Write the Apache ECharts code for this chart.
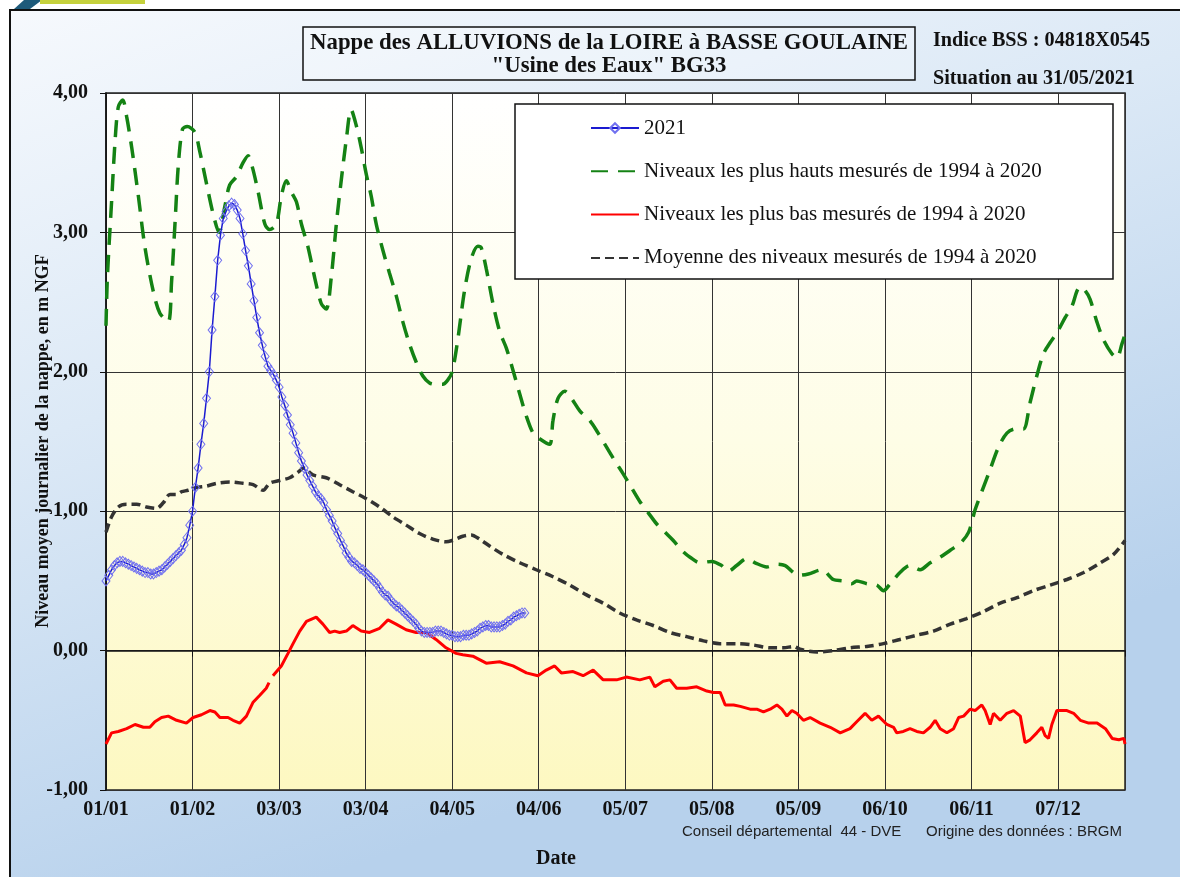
<!DOCTYPE html>
<html>
<head>
<meta charset="utf-8">
<script src="https://cdn.jsdelivr.net/npm/echarts@6/dist/echarts.min.js"></script>
<style>
html,body{margin:0;padding:0;background:#fff;}
#c{width:1180px;height:877px;}
</style>
</head>
<body>
<div id="c"></div>
<script>
// ---- data ----
const xTickDays = [0,31,62,93,124,155,186,217,248,279,310,341];
const xTickLabels = ['01/01','01/02','03/03','03/04','04/05','04/06','05/07','05/08','05/09','06/10','06/11','07/12'];
const yTickValues = [-1,0,1,2,3,4];
const yTickLabels = ['-1,00','0,00','1,00','2,00','3,00','4,00'];

const seriesNames = ['2021','Niveaux les plus hauts mesurés de 1994 à 2020','Niveaux les plus bas mesurés de 1994 à 2020','Moyenne des niveaux mesurés de 1994 à 2020'];

// 2021 daily levels (day 0 = 01/01)
const level2021 = [0.50,0.54,0.58,0.61,0.63,0.64,0.64,0.63,0.62,0.61,0.60,0.59,0.58,0.57,0.56,0.56,0.55,0.55,0.56,0.57,
0.58,0.60,0.62,0.64,0.66,0.68,0.70,0.72,0.76,0.81,0.90,1.00,1.17,1.31,1.48,1.63,1.81,2.00,2.30,2.54,
2.80,2.98,3.10,3.15,3.19,3.21,3.20,3.16,3.10,2.99,2.87,2.76,2.63,2.51,2.39,2.28,2.19,2.11,2.04,2.01,
1.98,1.94,1.89,1.82,1.76,1.69,1.62,1.56,1.49,1.42,1.36,1.31,1.26,1.22,1.18,1.14,1.11,1.09,1.06,1.01,
0.97,0.93,0.88,0.84,0.79,0.75,0.70,0.67,0.64,0.63,0.61,0.59,0.58,0.56,0.54,0.52,0.50,0.48,0.45,0.42,
0.40,0.39,0.36,0.34,0.32,0.31,0.29,0.27,0.25,0.23,0.21,0.19,0.16,0.14,0.13,0.13,0.13,0.13,0.14,0.14,
0.14,0.13,0.12,0.11,0.11,0.10,0.10,0.10,0.11,0.11,0.11,0.12,0.13,0.14,0.16,0.17,0.18,0.18,0.17,0.17,
0.17,0.17,0.18,0.19,0.21,0.22,0.24,0.25,0.26,0.27,0.27];

// Highest levels 1994-2020 [day, value]
const maxLevels = [[0,2.33],[0.5,2.68],[2,3.22],[3.2,3.64],[4.4,3.90],[6,3.95],[7.4,3.83],[9.2,3.61],[11.6,3.26],[13.9,2.90],
[16.9,2.58],[19.3,2.42],[22.3,2.36],[23.5,2.65],[24.7,3.06],[25.9,3.48],[27.4,3.74],[29.1,3.76],[31.8,3.72],[33.6,3.58],
[36,3.35],[38.4,3.13],[40.5,3.00],[42.6,3.19],[44.3,3.34],[46.7,3.40],[49.1,3.50],[50.9,3.55],[52.4,3.47],[54.5,3.29],
[56.9,3.06],[58.6,3.02],[61,3.06],[62.8,3.26],[64.6,3.37],[66.4,3.29],[68.2,3.22],[70,3.06],[72.3,2.90],[74.7,2.68],
[77.1,2.49],[78.9,2.45],[80.7,2.68],[82.5,3.06],[84.3,3.38],[86.1,3.67],[87.8,3.88],[89.6,3.77],[91.4,3.61],[93.2,3.42],
[95,3.26],[96.8,3.06],[99.2,2.87],[101.5,2.71],[103.9,2.55],[106.3,2.36],[108.7,2.20],[111.1,2.07],[113.5,1.97],[115.9,1.92],
[118.2,1.91],[120.6,1.91],[122.4,1.94],[124,2.00],[126,2.23],[128.4,2.58],[130.8,2.81],[133.2,2.90],[134.4,2.89],[136.2,2.74],
[138.6,2.49],[141,2.29],[143.4,2.17],[145.8,2.01],[148.2,1.84],[150.6,1.68],[153,1.56],[155.3,1.52],[158.9,1.48],[160.1,1.65],
[161.9,1.81],[164.3,1.86],[166.7,1.81],[169.7,1.72],[173.3,1.65],[176.3,1.56],[179.3,1.46],[182.3,1.36],[185.2,1.27],[188.2,1.17],
[191.2,1.07],[194.2,0.99],[197.2,0.91],[200.2,0.85],[203.2,0.79],[206.2,0.72],[209.2,0.67],[212.8,0.63],[217,0.64],[220.5,0.61],
[222.9,0.57],[225.9,0.61],[229.5,0.66],[232.5,0.63],[236.7,0.60],[240.3,0.62],[243.3,0.61],[245.6,0.57],[248,0.54],[251.6,0.55],
[256.4,0.58],[260.5,0.51],[264.1,0.50],[267.1,0.48],[268.9,0.50],[272.5,0.48],[276.1,0.47],[278.5,0.43],[280.9,0.48],[284.4,0.56],
[288,0.61],[291.6,0.58],[295.2,0.63],[298.8,0.67],[302.4,0.72],[306,0.77],[309,0.85],[311.3,1.01],[313.7,1.14],[316.7,1.30],
[319.7,1.46],[322.7,1.56],[325.7,1.59],[328.6,1.59],[331,1.78],[333.4,1.97],[335.8,2.13],[338.2,2.21],[340.6,2.28],[343.6,2.39],
[346,2.47],[347.8,2.58],[349,2.61],[350.8,2.58],[352.5,2.52],[354.9,2.36],[357.3,2.23],[360.3,2.13],[362.1,2.10],[363.9,2.20],[365,2.27]];

// Lowest levels 1994-2020 [day, value]  ('-' = missing)
const minLevels = [[0,-0.67],[2,-0.59],[4.4,-0.58],[7.4,-0.56],[10.4,-0.53],[13.4,-0.55],[15.7,-0.55],[17.5,-0.51],[19.9,-0.48],[22.3,-0.47],
[25.3,-0.50],[28.8,-0.52],[31.2,-0.48],[34.2,-0.46],[37.2,-0.43],[39,-0.44],[40.8,-0.48],[43.7,-0.48],[45.5,-0.50],[47.9,-0.52],
[50.3,-0.47],[52.7,-0.37],[55.1,-0.32],[57.4,-0.27],[58.4,-0.23],[59,'-'],[59.8,-0.18],[62.8,-0.11],[65.2,-0.02],[67,0.05],
[69.4,0.14],[71.8,0.21],[75.3,0.24],[77.7,0.19],[80.1,0.13],[81.9,0.14],[83.7,0.13],[86.1,0.14],[88.4,0.18],[91.4,0.14],
[94.4,0.13],[98,0.16],[101,0.22],[103.9,0.19],[107.5,0.15],[111.1,0.13],[114.7,0.13],[118.2,0.08],[121.8,0.02],[125.4,-0.02],
[127.8,-0.03],[131.4,-0.04],[136.2,-0.09],[141,-0.08],[145.8,-0.11],[150.6,-0.16],[154.7,-0.18],[157.7,-0.14],[160.7,-0.11],[163.1,-0.16],
[167.3,-0.15],[170.9,-0.18],[174.5,-0.14],[178.1,-0.21],[182.9,-0.21],[186.4,-0.19],[191.2,-0.21],[194.8,-0.19],[196.6,-0.26],[199.6,-0.22],
[202,-0.21],[204.4,-0.27],[208,-0.27],[211.6,-0.26],[215.2,-0.29],[217.6,-0.30],[220,-0.30],[221.8,-0.39],[224.8,-0.39],[227.2,-0.40],
[230.7,-0.42],[233.1,-0.42],[235.5,-0.44],[237.9,-0.42],[240.3,-0.39],[242.1,-0.42],[243.9,-0.47],[245.7,-0.43],[247.4,-0.45],[249.8,-0.50],
[252.2,-0.48],[255.8,-0.52],[259.4,-0.55],[263,-0.59],[266.5,-0.56],[268.9,-0.51],[271.9,-0.45],[274.3,-0.50],[276.7,-0.47],[279.7,-0.53],
[282.1,-0.55],[283.2,-0.59],[285.6,-0.58],[288,-0.56],[290.4,-0.58],[292.8,-0.59],[295.2,-0.55],[297,-0.50],[298.8,-0.56],[301.2,-0.59],
[303.6,-0.56],[305.4,-0.48],[307.2,-0.47],[309.5,-0.42],[311.3,-0.43],[313.7,-0.39],[314.9,-0.43],[316.7,-0.53],[317.9,-0.45],[320.3,-0.50],
[322.7,-0.45],[325.1,-0.43],[327.5,-0.47],[329.2,-0.66],[331,-0.64],[333.4,-0.59],[335.2,-0.55],[336.4,-0.61],[337.6,-0.63],[338.8,-0.53],
[340.6,-0.43],[344.2,-0.43],[346.6,-0.45],[349,-0.50],[352,-0.52],[355,-0.52],[358,-0.56],[360.4,-0.63],[362.8,-0.64],[364.6,-0.63],[365,-0.67]];

// Mean levels 1994-2020 [day, value]
const meanLevels = [[0,0.85],[2,0.96],[4.4,1.03],[7.4,1.05],[11,1.05],[14.5,1.03],[18.1,1.02],[20.5,1.06],[22.9,1.12],[25.3,1.12],
[27.1,1.14],[29.4,1.15],[32.4,1.17],[36,1.18],[39.6,1.20],[44.3,1.21],[49.1,1.20],[52.7,1.19],[56.3,1.15],[58.6,1.20],
[62.2,1.22],[65.8,1.24],[68.8,1.28],[70.8,1.31],[74.1,1.26],[78.9,1.24],[83.7,1.19],[88.4,1.14],[93.2,1.09],[98,1.03],
[102.7,0.96],[107.5,0.90],[112.3,0.84],[117,0.80],[121.8,0.78],[124,0.79],[127.8,0.82],[130.8,0.83],[133.8,0.80],[137.4,0.75],
[142.2,0.69],[148.2,0.63],[154.1,0.58],[160.1,0.53],[166.1,0.47],[172.1,0.40],[178.1,0.34],[184,0.27],[190,0.22],[196,0.18],
[202,0.13],[208,0.10],[214,0.07],[219.9,0.05],[225.9,0.05],[231.9,0.04],[237.9,0.02],[242.7,0.02],[246.3,0.03],[248.6,0.01],
[254.6,-0.01],[260.5,0.00],[266.5,0.02],[272.5,0.03],[278.5,0.05],[284.4,0.08],[290.4,0.11],[296.4,0.14],[302.4,0.19],[308.3,0.23],
[314.3,0.28],[320.3,0.34],[326.3,0.38],[332.2,0.43],[338.2,0.47],[344.2,0.51],[350.2,0.56],[356.2,0.63],[360.9,0.69],[365,0.79]];

const titleLines = ['Nappe des ALLUVIONS de la LOIRE à BASSE GOULAINE','"Usine des Eaux" BG33'];
const infoLines = ['Indice BSS : 04818X0545','Situation au 31/05/2021'];
const yAxisTitle = 'Niveau moyen journalier de la nappe, en m NGF';
const xAxisTitle = 'Date';
const credits = ['Conseil départemental  44 - DVE','Origine des données : BRGM'];

// ---- chart ----
const SERIF = '"Liberation Serif","Times New Roman",serif';
const SANS = '"Liberation Sans",Arial,sans-serif';
const chart = echarts.init(document.getElementById('c'));
const data2021 = level2021.map((v,i)=>[i,v]);

chart.setOption({
  animation:false,
  backgroundColor:'#ffffff',
  graphic:[
    {type:'rect',z:-10,shape:{x:10,y:10,width:1175,height:872},
     style:{fill:{type:'linear',x:0,y:0,x2:0.25,y2:1,colorStops:[{offset:0,color:'#f6f9fd'},{offset:0.45,color:'#dce9f6'},{offset:1,color:'#b7d1ec'}]},stroke:'#111',lineWidth:2}},
    {type:'polygon',z:-9,shape:{points:[[14,9],[24,0],[42,0],[30,9]]},style:{fill:'#1e5a7a'}},
    {type:'rect',z:-9,shape:{x:40,y:0,width:105,height:4},style:{fill:'#c5d13c'}},
    {type:'rect',z:-5,shape:{x:303,y:27,width:612,height:53},style:{fill:'rgba(255,255,255,0.25)',stroke:'#111',lineWidth:1.5}},
    {type:'text',z:-4,style:{x:609,y:43,text:titleLines[0],textAlign:'center',textVerticalAlign:'middle',font:'bold 22.8px '+SERIF,fill:'#111'}},
    {type:'text',z:-4,style:{x:609,y:66,text:titleLines[1],textAlign:'center',textVerticalAlign:'middle',font:'bold 22.8px '+SERIF,fill:'#111'}},
    {type:'text',z:-4,style:{x:933,y:41,text:infoLines[0],textAlign:'left',textVerticalAlign:'middle',font:'bold 20.2px '+SERIF,fill:'#111'}},
    {type:'text',z:-4,style:{x:933,y:79,text:infoLines[1],textAlign:'left',textVerticalAlign:'middle',font:'bold 20.2px '+SERIF,fill:'#111'}},
    {type:'text',z:-4,style:{x:682,y:832,text:credits[0],textAlign:'left',textVerticalAlign:'middle',font:'15px '+SANS,fill:'#222'}},
    {type:'text',z:-4,style:{x:926,y:832,text:credits[1],textAlign:'left',textVerticalAlign:'middle',font:'15px '+SANS,fill:'#222'}},
    {type:'text',z:-4,style:{x:556,y:859,text:xAxisTitle,textAlign:'center',textVerticalAlign:'middle',font:'bold 20px '+SERIF,fill:'#111'}},
    {type:'text',z:-4,x:43,y:441,rotation:Math.PI/2,style:{x:0,y:0,text:yAxisTitle,textAlign:'center',textVerticalAlign:'middle',font:'bold 18px '+SERIF,fill:'#111'}},
    {type:'rect',z:50,shape:{x:515,y:104,width:598,height:175},style:{fill:'#ffffff',stroke:'#111',lineWidth:1.5}}
  ],
  grid:{left:106,right:55,top:93,bottom:87,show:true,borderColor:'#222',borderWidth:1.5,
    backgroundColor:{type:'linear',x:0,y:0,x2:0,y2:1,colorStops:[{offset:0,color:'#ffffff'},{offset:0.5,color:'#fefde6'},{offset:1,color:'#fdf8c1'}]}},
  legend:{
    z:60,orient:'vertical',left:590,top:117,padding:0,itemWidth:48,itemHeight:12,itemGap:21.3,
    data:[
      {name:seriesNames[0]},
      {name:seriesNames[1],itemStyle:{opacity:0}},
      {name:seriesNames[2],itemStyle:{opacity:0}},
      {name:seriesNames[3],itemStyle:{opacity:0}}
    ],
    textStyle:{fontFamily:SERIF,fontSize:21,lineHeight:22,color:'#111'}
  },
  xAxis:{
    type:'value',min:0,max:365,interval:31,
    axisLine:{lineStyle:{color:'#111',width:1.5}},
    axisTick:{show:true,length:6,lineStyle:{color:'#111'}},
    axisLabel:{margin:10,fontFamily:SERIF,fontWeight:'bold',fontSize:20,color:'#111',
      formatter:function(v){const i=xTickDays.indexOf(Math.round(v));return i>=0?xTickLabels[i]:'';}},
    splitLine:{show:true,lineStyle:{color:'#333',width:1}}
  },
  yAxis:{
    type:'value',min:-1,max:4,interval:1,
    axisLine:{show:true,lineStyle:{color:'#111',width:1.5}},
    axisTick:{show:true,length:6,lineStyle:{color:'#111'}},
    axisLabel:{margin:18,fontFamily:SERIF,fontWeight:'bold',fontSize:20,color:'#111',
      formatter:function(v){const i=yTickValues.indexOf(Math.round(v));return i>=0?yTickLabels[i]:'';}},
    splitLine:{show:true,lineStyle:{color:'#333',width:1}}
  },
  series:[
    {name:seriesNames[0],type:'line',data:data2021,z:5,symbol:'diamond',symbolSize:[8,10],showSymbol:true,
     lineStyle:{color:'#1a1ad0',width:1.5},
     itemStyle:{color:'rgba(255,255,255,0)',borderColor:'#7070f0',borderWidth:1}},
    {name:seriesNames[1],type:'line',data:maxLevels,z:3,symbol:'none',smooth:0.3,
     lineStyle:{color:'#148214',width:3.5,type:[17,10]},itemStyle:{color:'#148214'}},
    {name:seriesNames[2],type:'line',data:minLevels,z:3,symbol:'none',connectNulls:false,
     lineStyle:{color:'#ff0000',width:3},itemStyle:{color:'#ff0000'}},
    {name:seriesNames[3],type:'line',data:meanLevels,z:3,symbol:'none',smooth:0.3,
     lineStyle:{color:'#333333',width:3.5,type:[9,5]},itemStyle:{color:'#333333'}}
  ]
});
</script>
</body>
</html>
